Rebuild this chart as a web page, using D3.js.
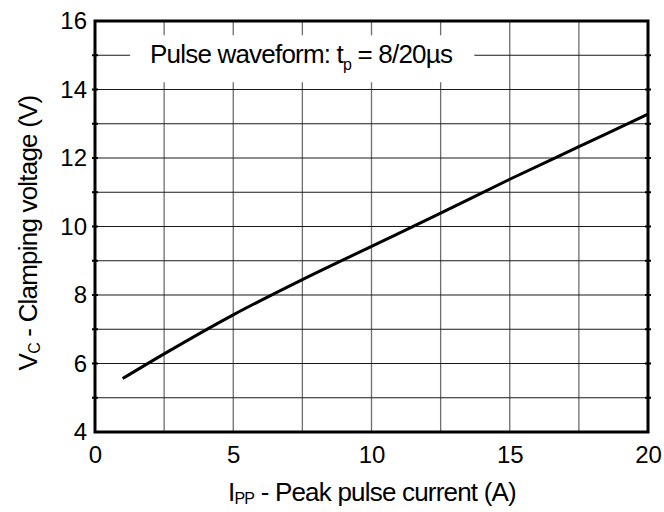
<!DOCTYPE html>
<html lang="en">
<head>
<meta charset="UTF-8">
<title>Clamping voltage vs peak pulse current</title>
<script src="https://d3js.org/d3.v7.min.js"></script>
<style>
  body { margin: 0; background: #fff; }
  text { font-family: "Liberation Sans", Arial, sans-serif; fill: #000; }
</style>
</head>
<body>
<div id="chart"></div>
<script>
// data
const currentA = [1, 2.5, 5, 7.5, 10, 12.5, 15, 17.5, 20];
const clampV = [5.56, 6.28, 7.42, 8.45, 9.42, 10.39, 11.38, 12.33, 13.28];
const xTicks = [0, 5, 10, 15, 20];
const yTicks = [4, 6, 8, 10, 12, 14, 16];
const xGrid = [2.5, 5, 7.5, 10, 12.5, 15, 17.5];
const yGrid = [5, 6, 7, 8, 9, 10, 11, 12, 13, 14, 15];

const margin = { top: 21, right: 16, bottom: 80, left: 95 },
  width = 664 - margin.left - margin.right,
  height = 512 - margin.top - margin.bottom;

const svg = d3.select("#chart")
  .append("svg")
  .attr("width", 664)
  .attr("height", 512);

const g = svg.append("g")
  .attr("transform", `translate(${margin.left},${margin.top})`);

const x = d3.scaleLinear().domain([0, 20]).range([0, width]);
const y = d3.scaleLinear().domain([4, 16]).range([height, 0]);

// grid
g.selectAll(".vgrid").data(xGrid).join("line")
  .attr("x1", d => x(d)).attr("x2", d => x(d))
  .attr("y1", 0).attr("y2", height)
  .attr("stroke", "#6e6e6e").attr("stroke-width", 1.3);

g.selectAll(".hgrid").data(yGrid).join("line")
  .attr("x1", 0).attr("x2", width)
  .attr("y1", d => y(d)).attr("y2", d => y(d))
  .attr("stroke", "#1a1a1a").attr("stroke-width", 1.1);

// legend box covers the grid
const legendY = y(15);
g.append("rect")
  .attr("x", x(1.27)).attr("y", legendY - 20)
  .attr("width", x(13.72) - x(1.27)).attr("height", 47)
  .attr("fill", "#fff");

const leg = g.append("text")
  .attr("x", 150 - margin.left).attr("y", legendY + 8)
  .attr("font-size", 26)
  .attr("letter-spacing", -0.8);
leg.append("tspan").text("Pulse waveform: t");
leg.append("tspan").attr("font-size", 16).attr("dy", 7).text("p");
leg.append("tspan").attr("dy", -7).text(" = 8/20\u00b5s");

// small ticks on left and right frame
g.selectAll(".ltick").data(yGrid).join("line")
  .attr("x1", -3).attr("x2", 3)
  .attr("y1", d => y(d)).attr("y2", d => y(d))
  .attr("stroke", "#000").attr("stroke-width", 2);
g.selectAll(".rtick").data(yGrid).join("line")
  .attr("x1", width - 3).attr("x2", width + 3)
  .attr("y1", d => y(d)).attr("y2", d => y(d))
  .attr("stroke", "#000").attr("stroke-width", 2);

// curve
g.append("path")
  .datum(d3.zip(currentA, clampV))
  .attr("fill", "none")
  .attr("stroke", "#000")
  .attr("stroke-width", 3)
  .attr("d", d3.line()
    .x(d => x(d[0]))
    .y(d => y(d[1]))
    .curve(d3.curveMonotoneX));

// frame
g.append("rect")
  .attr("x", 0).attr("y", 0)
  .attr("width", width).attr("height", height)
  .attr("fill", "none").attr("stroke", "#000").attr("stroke-width", 3);

// axes
const xAxis = g.append("g")
  .attr("transform", `translate(0,${height})`)
  .call(d3.axisBottom(x).tickValues(xTicks).tickSize(0).tickPadding(14));
const yAxis = g.append("g")
  .call(d3.axisLeft(y).tickValues(yTicks).tickSize(0).tickPadding(8));
[xAxis, yAxis].forEach(a => {
  a.select(".domain").remove();
  a.selectAll("text").attr("font-size", 24).attr("font-family", "Liberation Sans, Arial, sans-serif");
});

// axis titles
const xt = svg.append("text")
  .attr("x", 372).attr("y", 501)
  .attr("text-anchor", "middle")
  .attr("font-size", 26)
  .attr("letter-spacing", -0.8);
xt.append("tspan").text("I");
xt.append("tspan").attr("font-size", 16).attr("dy", 3).text("PP");
xt.append("tspan").attr("dy", -3).text(" - Peak pulse current (A)");

const yt = svg.append("text")
  .attr("transform", "translate(37,233) rotate(-90)")
  .attr("text-anchor", "middle")
  .attr("font-size", 26)
  .attr("letter-spacing", -0.8);
yt.append("tspan").text("V");
yt.append("tspan").attr("font-size", 16).attr("dy", 3).text("C");
yt.append("tspan").attr("dy", -3).text(" - Clamping voltage (V)");
</script>
</body>
</html>
